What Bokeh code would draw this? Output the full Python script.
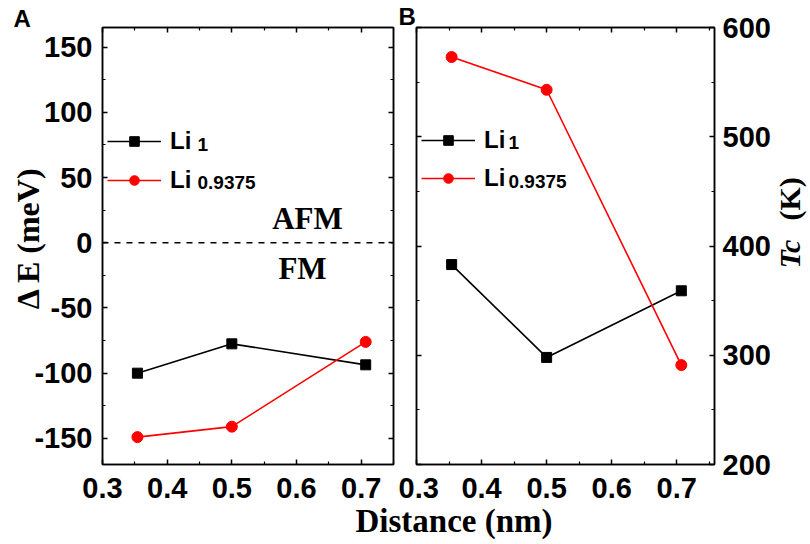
import numpy as np
from bokeh.plotting import figure
from bokeh.models import (Range1d, LinearAxis, FixedTicker, Label, Legend,
                          LegendItem, Span, Div, CustomLabelingPolicy)
from bokeh.layouts import row, column
from bokeh.embed import file_html
from bokeh.resources import INLINE

# ---------------- data ----------------
distance = [0.354, 0.5, 0.707]                 # nm
dE_li1 = [-100, -77.5, -93.6]                  # meV
dE_li09375 = [-149, -141, -76]                 # meV
tc_li1 = [383, 298, 359]                       # K
tc_li09375 = [573, 543, 291]                   # K
zero_level = 0

x_ticks = [0.3, 0.4, 0.5, 0.6, 0.7]
x_tick_labels = ["0.3", "0.4", "0.5", "0.6", "0.7"]
dE_ticks = [-150, -100, -50, 0, 50, 100, 150]
dE_tick_labels = ["-150", "-100", "-50", "0", "50", "100", "150"]
tc_ticks = [200, 300, 400, 500, 600]
tc_tick_labels = ["200", "300", "400", "500", "600"]

series_names = ["Li", "Li"]
series_subs = ["1", "0.9375"]
colors = ["#000000", "#ff0000"]

SANS = "Liberation Sans"
SERIF = "Liberation Serif"
NB = "\u00a0"
K = 0.3  # baseline correction factor for Label text


def minor_of(ticks):
    step = ticks[1] - ticks[0]
    return [t + step / 2 for t in ticks] + [ticks[0] - step / 2]


def style_axis(ax, ticks, labels=None, standoff=10):
    ax.ticker = FixedTicker(ticks=ticks, minor_ticks=minor_of(ticks))
    ax.axis_line_color = "black"
    ax.axis_line_width = 1.5
    ax.major_tick_in = 5
    ax.major_tick_out = 0
    ax.minor_tick_in = 3
    ax.minor_tick_out = 0
    ax.major_tick_line_color = "black"
    ax.major_tick_line_width = 1.5
    ax.minor_tick_line_color = "black"
    ax.minor_tick_line_width = 1.2
    if labels is not None:
        ax.major_label_overrides = {t: s for t, s in zip(ticks, labels)}
        ax.major_label_text_font = SANS
        ax.major_label_text_font_style = "bold"
        ax.major_label_text_font_size = "29px"
        ax.major_label_text_color = "black"
        ax.major_label_standoff = standoff
    else:
        ax.major_label_policy = CustomLabelingPolicy(
            code="for (const i of indices) { indices.unset(i) } return indices")
        ax.major_label_text_font_size = "1px"
        ax.major_label_standoff = 0


def add_label(p, x, y, text, size, font=SANS, style="bold", align="left", angle=0.0):
    if angle == 0.0:
        y = y + K * size
    else:
        x = x - K * size
    p.add_layout(Label(x=x, y=y, x_units="screen", y_units="screen",
                       text=text, text_font=font, text_font_size=f"{size}px",
                       text_font_style=style, text_align=align, angle=angle,
                       text_baseline="alphabetic", text_color="black"))


def make_legend(p, renderers, loc, spacing):
    items = [LegendItem(label=n, renderers=r) for n, r in zip(series_names, renderers)]
    leg = Legend(items=items, location=loc, orientation="vertical",
                 glyph_width=54, glyph_height=24, label_height=28,
                 label_standoff=9, spacing=spacing,
                 padding=0, margin=0, border_line_color=None,
                 background_fill_alpha=0, label_text_font=SANS,
                 label_text_font_style="bold", label_text_font_size="24px",
                 label_text_color="black")
    p.add_layout(leg)


def style_title(p, offset, standoff):
    p.title.align = "left"
    p.title.offset = offset
    p.title.standoff = standoff
    p.title.text_font = SANS
    p.title.text_font_style = "bold"
    p.title.text_font_size = "24px"
    p.title.text_color = "black"


H = 510
WA, WB, WR = 398, 375, 35
FRAME_TOP, FRAME_H = 27, 437

# ---------------- panel A ----------------
pA = figure(width=WA, height=H, x_range=Range1d(0.3, 0.75),
            y_range=Range1d(-170, 165), output_backend="svg", title="A",
            toolbar_location=None, min_border_left=102, min_border_right=2,
            min_border_top=FRAME_TOP, min_border_bottom=H - FRAME_TOP - FRAME_H)
pA.xgrid.visible = False
pA.ygrid.visible = False
pA.outline_line_color = "black"
pA.outline_line_width = 1.5
style_title(pA, -89, -16)
style_axis(pA.xaxis[0], x_ticks, x_tick_labels, 13)
style_axis(pA.yaxis[0], dE_ticks, dE_tick_labels, 10)
pA.yaxis[0].axis_label = NB * 2 + "Δ E (meV)"
pA.yaxis[0].axis_label_text_font = SERIF
pA.yaxis[0].axis_label_text_font_style = "bold"
pA.yaxis[0].axis_label_text_font_size = "32px"
pA.yaxis[0].axis_label_text_color = "black"
pA.yaxis[0].axis_label_standoff = -15
topA = LinearAxis()
style_axis(topA, x_ticks)
pA.add_layout(topA, "above")
rightA = LinearAxis()
style_axis(rightA, dE_ticks)
pA.add_layout(rightA, "right")

pA.add_layout(Span(location=zero_level, dimension="width", line_color="black",
                   line_width=1.5, line_dash="6 6"))

rendA = []
for ys, c, mk, sz in [(dE_li1, colors[0], "square", 10),
                      (dE_li09375, colors[1], "circle", 11)]:
    l = pA.line(distance, ys, line_color=c, line_width=1.6)
    s = pA.scatter(distance, ys, marker=mk, size=sz, color=c)
    rendA.append([l, s])
make_legend(pA, rendA, (5, 270), 11)

add_label(pA, 95, 314, series_subs[0], 19)
add_label(pA, 95, 276, series_subs[1], 19)
add_label(pA, 205, 237, "AFM", 31, font=SERIF, align="center")
add_label(pA, 200, 187, "FM", 31, font=SERIF, align="center")

# ---------------- panel B ----------------
pB = figure(width=WB, height=H, x_range=Range1d(0.3, 0.758),
            y_range=Range1d(200, 600), output_backend="svg", title="B",
            toolbar_location=None, y_axis_location="right",
            min_border_left=18, min_border_right=WB - 18 - 299,
            min_border_top=FRAME_TOP, min_border_bottom=H - FRAME_TOP - FRAME_H)
pB.xgrid.visible = False
pB.ygrid.visible = False
pB.outline_line_color = "black"
pB.outline_line_width = 1.5
style_title(pB, -18, -12)
style_axis(pB.xaxis[0], x_ticks, x_tick_labels, 13)
style_axis(pB.yaxis[0], tc_ticks, tc_tick_labels, 8)
topB = LinearAxis()
style_axis(topB, x_ticks)
pB.add_layout(topB, "above")
leftB = LinearAxis()
style_axis(leftB, tc_ticks)
pB.add_layout(leftB, "left")

rendB = []
for ys, c, mk, sz in [(tc_li1, colors[0], "square", 10),
                      (tc_li09375, colors[1], "circle", 11)]:
    l = pB.line(distance, ys, line_color=c, line_width=1.6)
    s = pB.scatter(distance, ys, marker=mk, size=sz, color=c)
    rendB.append([l, s])
make_legend(pB, rendB, (5, 272), 10)

add_label(pB, 92, 316, series_subs[0], 19)
add_label(pB, 92, 277, series_subs[1], 19)

# ---------------- right-axis title strip ----------------
pR = figure(width=WR, height=H, x_range=Range1d(0, 1), y_range=Range1d(0, 1),
            output_backend="svg", toolbar_location=None,
            x_axis_type=None, y_axis_type=None, min_border=0)
pR.outline_line_color = None
pR.xgrid.visible = False
pR.ygrid.visible = False
add_label(pR, 25, 196, "Tc", 30, font=SERIF, style="bold italic", angle=np.pi / 2)
add_label(pR, 25, 244, "(K)", 30, font=SERIF, style="bold", angle=np.pi / 2)

# ---------------- shared x title ----------------
title_div = Div(
    text=("<div style=\"width:808px; box-sizing:border-box; padding-left:100px; "
          "text-align:center; font-family:'Liberation Serif'; font-weight:bold; "
          "font-size:33px; line-height:22px; color:black; margin:0;\">"
          "Distance (nm)</div>"),
    width=WA + WB + WR, height=30, margin=0)

layout = column(row(pA, pB, pR), title_div)
open("out.html", "w").write(file_html(layout, INLINE))
